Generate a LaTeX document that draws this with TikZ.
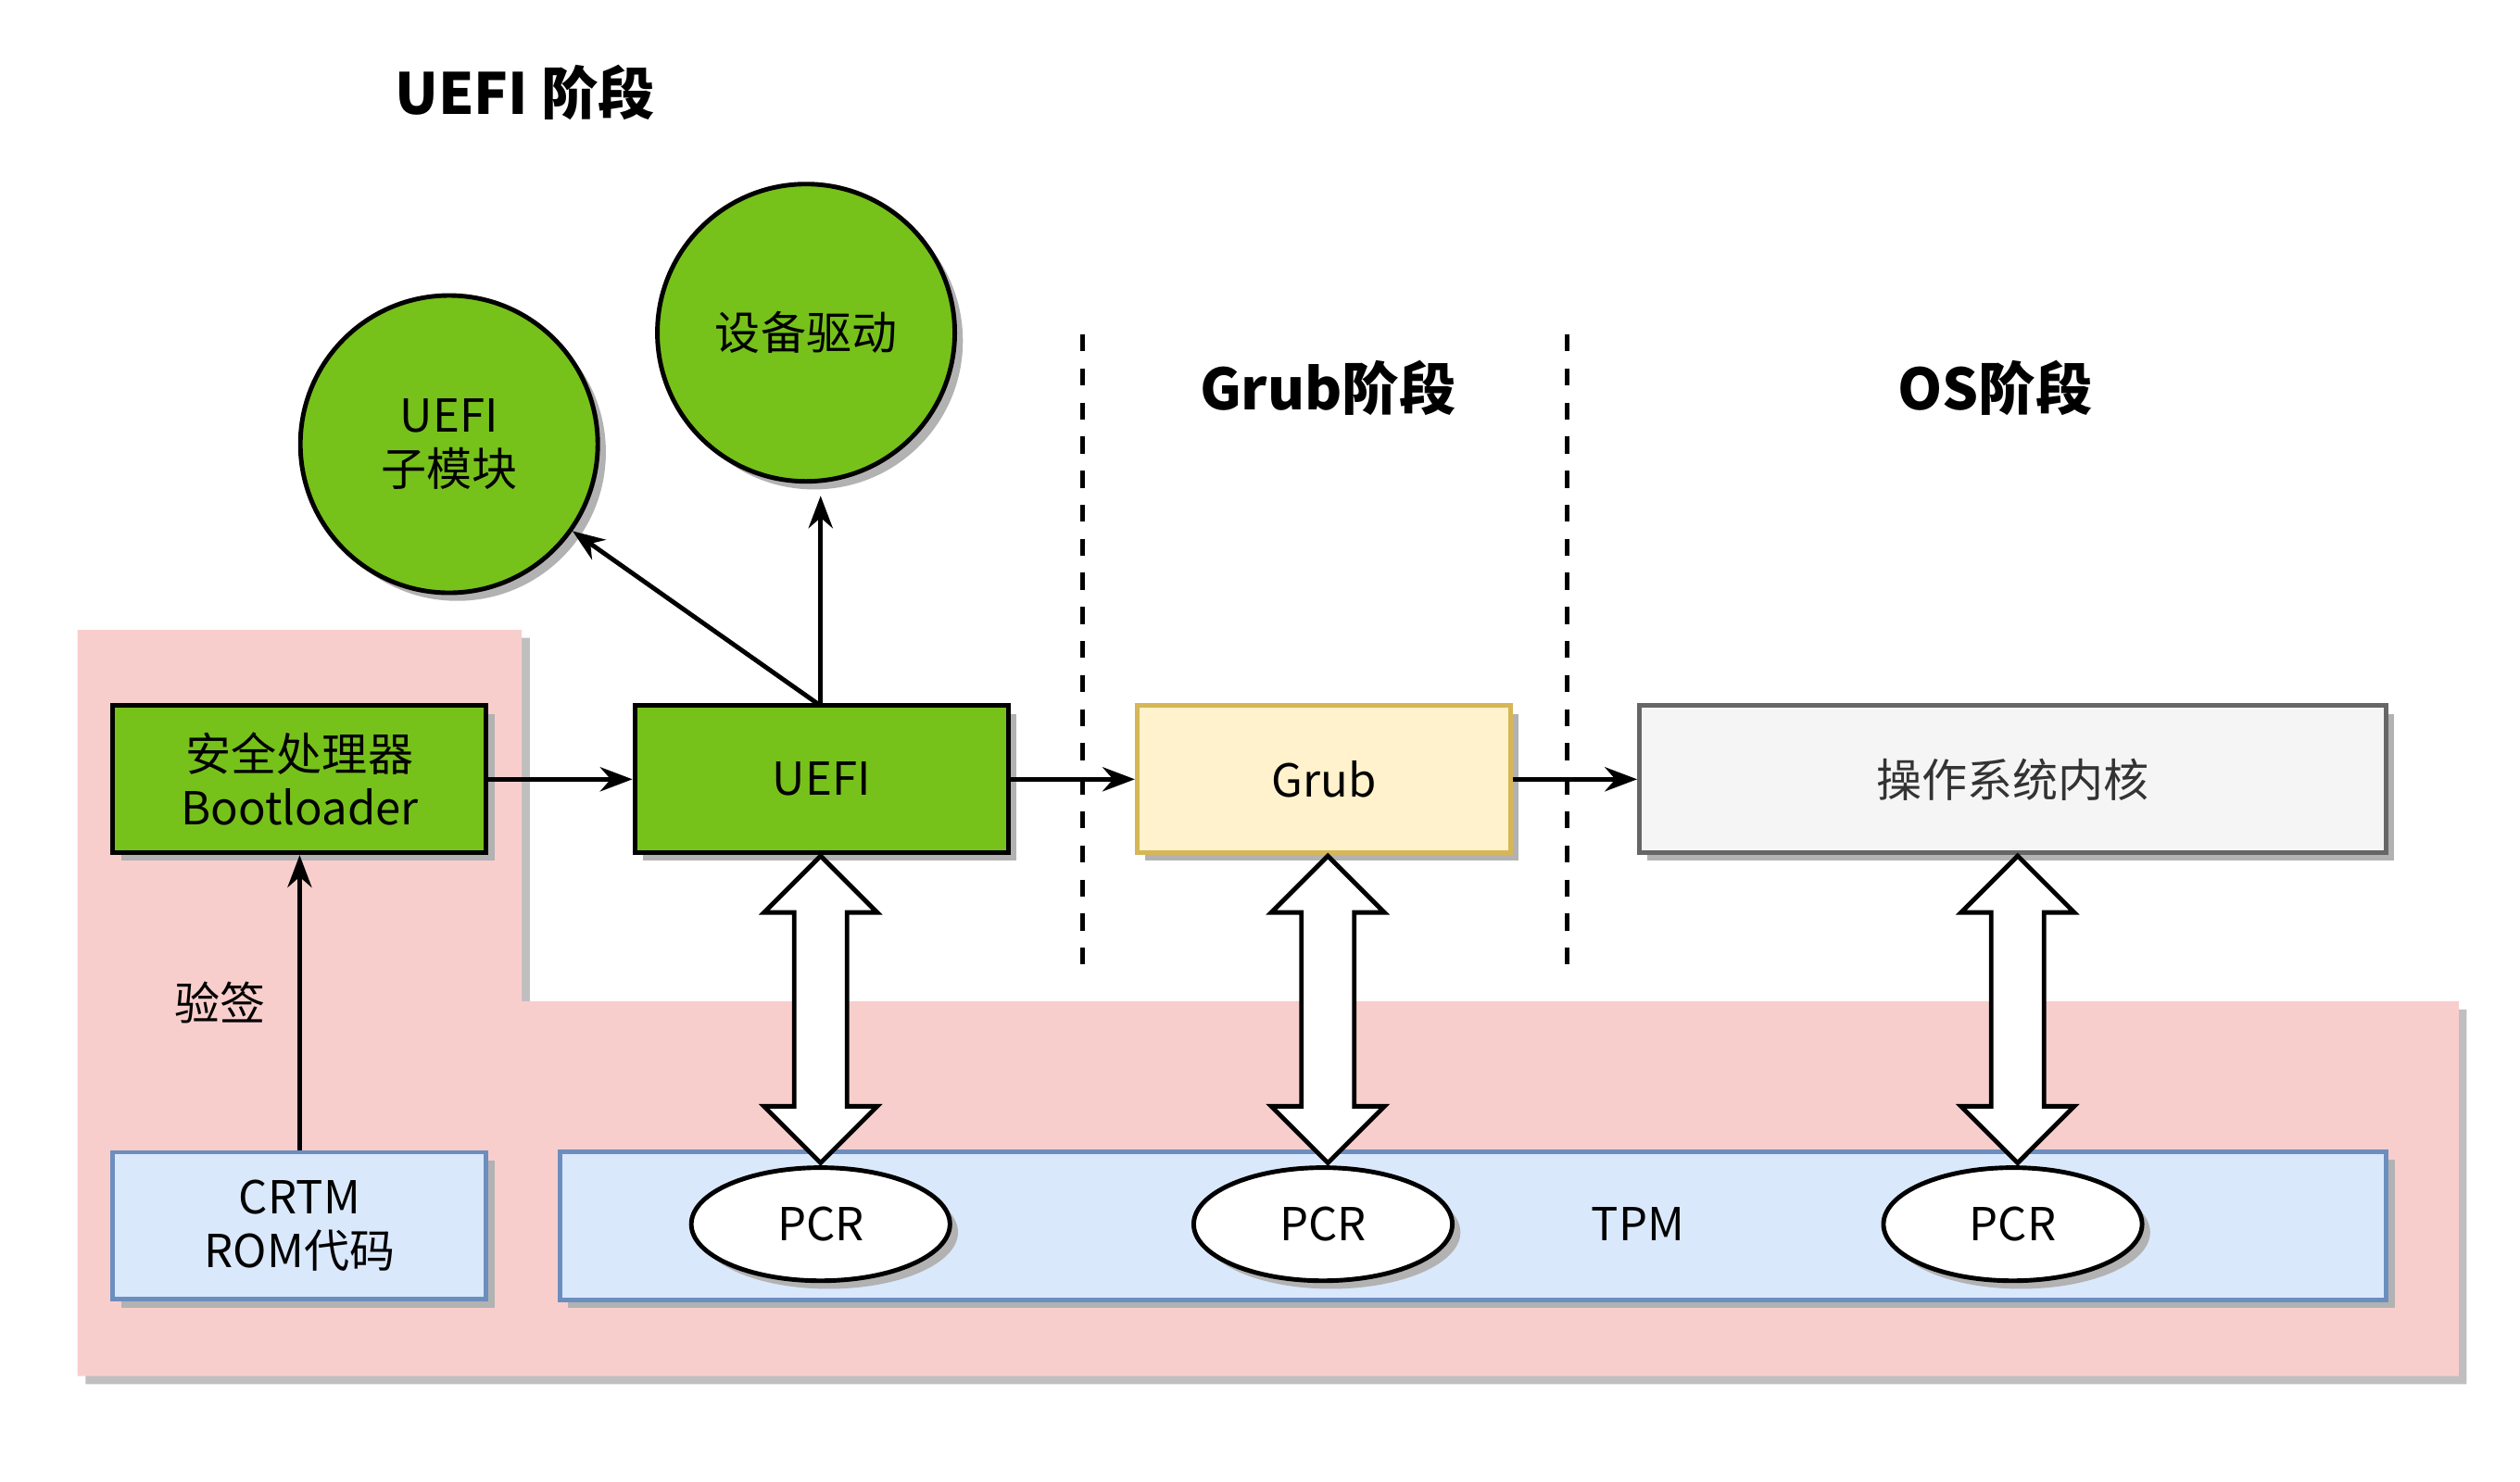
\documentclass[tikz,border=0pt]{standalone}
\usepackage{fontspec}
\setmainfont{Noto Sans CJK SC}
\usetikzlibrary{shapes.arrows,shapes.geometric,shadows,arrows.meta}
\definecolor{leaf}{HTML}{77C11B}
\definecolor{pinkbg}{HTML}{F8CECC}
\definecolor{sandfill}{HTML}{FFF2CC}
\definecolor{sandline}{HTML}{D6B656}
\definecolor{skyfill}{HTML}{DAE8FC}
\definecolor{skyline}{HTML}{6C8EBF}
\definecolor{ashfill}{HTML}{F5F5F5}
\tikzset{
  shade/.style={drop shadow={shadow xshift=0.05cm,shadow yshift=-0.05cm,fill=black!30,opacity=1}},
  stage/.style={font=\bfseries\fontsize{10}{12}\selectfont},
  box/.style={draw,thick,minimum width=2.31cm,minimum height=0.91cm,align=center,shade,font=\fontsize{8}{9.5}\selectfont},
  ball/.style={circle,draw,thick,fill=leaf,minimum size=1.84cm,align=center,shade,font=\fontsize{8}{9.5}\selectfont},
  pcr/.style={ellipse,draw,thick,fill=white,minimum width=1.6cm,minimum height=0.7cm,shade,font=\fontsize{8}{9.5}\selectfont},
  link/.style={-{Stealth[length=0.2cm,width=0.15cm]},thick},
  both/.style={double arrow,draw,thick,fill=white,rotate=90,minimum height=1.9cm,minimum width=0.7cm,
    double arrow head extend=0.15cm,double arrow head indent=0cm}
}
\begin{document}
\begin{tikzpicture}[x=0.01cm,y=-0.01cm]
    \useasboundingbox (0,0) rectangle (1560,917.6);
    % pink background
    \fill[black!25] (53,395) -- (328,395) -- (328,625) -- (1527,625) -- (1527,857) -- (53,857) -- cycle;
    \fill[pinkbg] (48,390) -- (323,390) -- (323,620) -- (1522,620) -- (1522,852) -- (48,852) -- cycle;

    % stage titles
    \node[stage] (t1) at (325,57) {UEFI 阶段};
    \node[stage] (t2) at (822,240) {Grub阶段};
    \node[stage] (t3) at (1235,240) {OS阶段};
    \draw[dashed,thick] (670,207) -- (670,597);
    \draw[dashed,thick] (970,207) -- (970,597);

    % circles
    \node[ball] (sub) at (278,275) {UEFI\\子模块};
    \node[ball] (drv) at (499,206) {设备驱动};

    % boxes
    \node[box,fill=leaf,minimum height=0.91cm] (boot) at (185.5,482.5) {安全处理器\\Bootloader};
    \node[box,fill=leaf] (uefi) at (508.5,482.5) {UEFI};
    \node[box,fill=sandfill,draw=sandline] (grub) at (819.5,482.5) {Grub};
    \node[box,fill=ashfill,draw=black!60,text=black!80,minimum width=4.62cm] (os) at (1246,482.5) {操作系统内核};
    \node[box,fill=skyfill,draw=skyline] (crtm) at (185.5,759) {CRTM\\ROM代码};
    \node[box,fill=skyfill,draw=skyline,minimum width=11.3cm,minimum height=0.92cm] (tpm) at (912,759) {};
    \node[font=\fontsize{8}{9.5}\selectfont] (tpmtxt) at (1014,758) {TPM};

    % PCR
    \node[pcr] (p1) at (508,758) {PCR};
    \node[pcr] (p2) at (819,758) {PCR};
    \node[pcr] (p3) at (1246,758) {PCR};

    % double arrows
    \node[both] (a1) at (508,625) {};
    \node[both] (a2) at (822,625) {};
    \node[both] (a3) at (1249,625) {};

    % connectors
    \draw[link] (boot) -- (uefi);
    \draw[link] (uefi) -- (grub);
    \draw[link] (grub) -- (os);
    \draw[link] (crtm.north) -- node[left=0.08cm,font=\fontsize{8}{9.5}\selectfont] {验签} (boot.south);
    \coordinate (utop) at (508,437);
    \coordinate (dtip) at (508,307);
    \draw[link] (utop) -- (dtip);
    \draw[link] (utop) -- (sub);
\end{tikzpicture}
\end{document}
